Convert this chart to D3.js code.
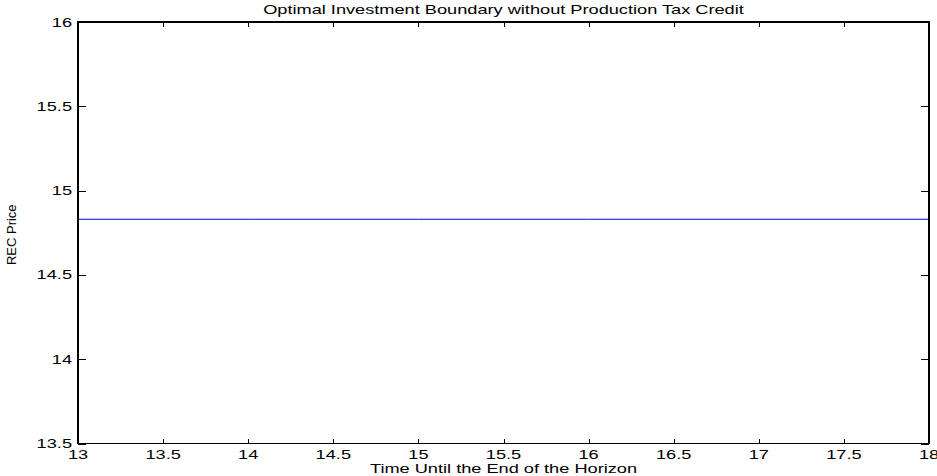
<!DOCTYPE html>
<html>
<head>
<meta charset="utf-8">
<script src="https://cdn.jsdelivr.net/npm/d3@7"></script>
<style>
  html, body { margin: 0; padding: 0; background: #fff; }
  svg { display: block; }
  text { font-family: "Liberation Sans", Arial, Helvetica, sans-serif; fill: #000; }
</style>
</head>
<body>
<svg id="chart" width="937" height="476"></svg>
<script>
// Optimal investment boundary (REC price) versus time remaining
const timeUntilEnd = [13, 14, 15, 16, 17, 18];
const boundaryPrice = [14.83, 14.83, 14.83, 14.83, 14.83, 14.83];

const xTicks = [13, 13.5, 14, 14.5, 15, 15.5, 16, 16.5, 17, 17.5, 18];
const yTicks = [13.5, 14, 14.5, 15, 15.5, 16];

const titleText = "Optimal Investment Boundary without Production Tax Credit";
const xLabelText = "Time Until the End of the Horizon";
const yLabelText = "REC Price";

const W = 937, H = 476;
const box = { left: 78, right: 929, top: 22, bottom: 443.5 };
const stretch = 1.4;      // wide glyph rendering
const fontSize = 13;

const svg = d3.select("#chart");

const x = d3.scaleLinear().domain([13, 18]).range([box.left, box.right]);
const y = d3.scaleLinear().domain([13.5, 16]).range([box.bottom, box.top]);

// data line
const line = d3.line().x(d => x(d[0])).y(d => y(d[1]));
svg.append("path")
  .datum(timeUntilEnd.map((t, i) => [t, boundaryPrice[i]]))
  .attr("d", line)
  .attr("fill", "none")
  .attr("stroke", "#0000ff")
  .attr("stroke-width", 1);

// axes with inward ticks on all four sides
function styleAxis(g) {
  g.select(".domain").remove();
  g.selectAll("line").attr("stroke", "#000").attr("shape-rendering", "crispEdges");
}

svg.append("g")
  .attr("transform", `translate(0,${box.bottom})`)
  .call(d3.axisBottom(x).tickValues(xTicks).tickSize(-5).tickFormat(""))
  .call(styleAxis);
svg.append("g")
  .attr("transform", `translate(0,${box.top})`)
  .call(d3.axisTop(x).tickValues(xTicks).tickSize(-5).tickFormat(""))
  .call(styleAxis);
svg.append("g")
  .attr("transform", `translate(${box.left},0)`)
  .call(d3.axisLeft(y).tickValues(yTicks).tickSize(-8).tickFormat(""))
  .call(styleAxis);
svg.append("g")
  .attr("transform", `translate(${box.right},0)`)
  .call(d3.axisRight(y).tickValues(yTicks).tickSize(-8).tickFormat(""))
  .call(styleAxis);

// frame
svg.append("rect")
  .attr("x", box.left).attr("y", box.top)
  .attr("width", box.right - box.left).attr("height", box.bottom - box.top)
  .attr("fill", "none").attr("stroke", "#000").attr("stroke-width", 1.2)
  .attr("shape-rendering", "crispEdges");

// tick labels
svg.append("g").selectAll("text")
  .data(xTicks).join("text")
  .attr("transform", d => `translate(${x(d)},459) scale(${stretch},1)`)
  .attr("text-anchor", "middle")
  .attr("font-size", fontSize)
  .text(d => d3.format("~g")(d));

svg.append("g").selectAll("text")
  .data(yTicks).join("text")
  .attr("transform", d => `translate(72,${y(d) + 4.5}) scale(${stretch},1)`)
  .attr("text-anchor", "end")
  .attr("font-size", fontSize)
  .text(d => d3.format("~g")(d));

// title and axis labels
svg.append("text")
  .attr("transform", `translate(${(box.left + box.right) / 2},14) scale(${stretch},1)`)
  .attr("text-anchor", "middle")
  .attr("font-size", fontSize)
  .text(titleText);

svg.append("text")
  .attr("transform", `translate(${(box.left + box.right) / 2},473) scale(${stretch},1)`)
  .attr("text-anchor", "middle")
  .attr("font-size", fontSize)
  .text(xLabelText);

svg.append("text")
  .attr("transform", `translate(16,${(box.top + box.bottom) / 2 + 2}) rotate(-90)`)
  .attr("text-anchor", "middle")
  .attr("font-size", fontSize)
  .text(yLabelText);
</script>
</body>
</html>
